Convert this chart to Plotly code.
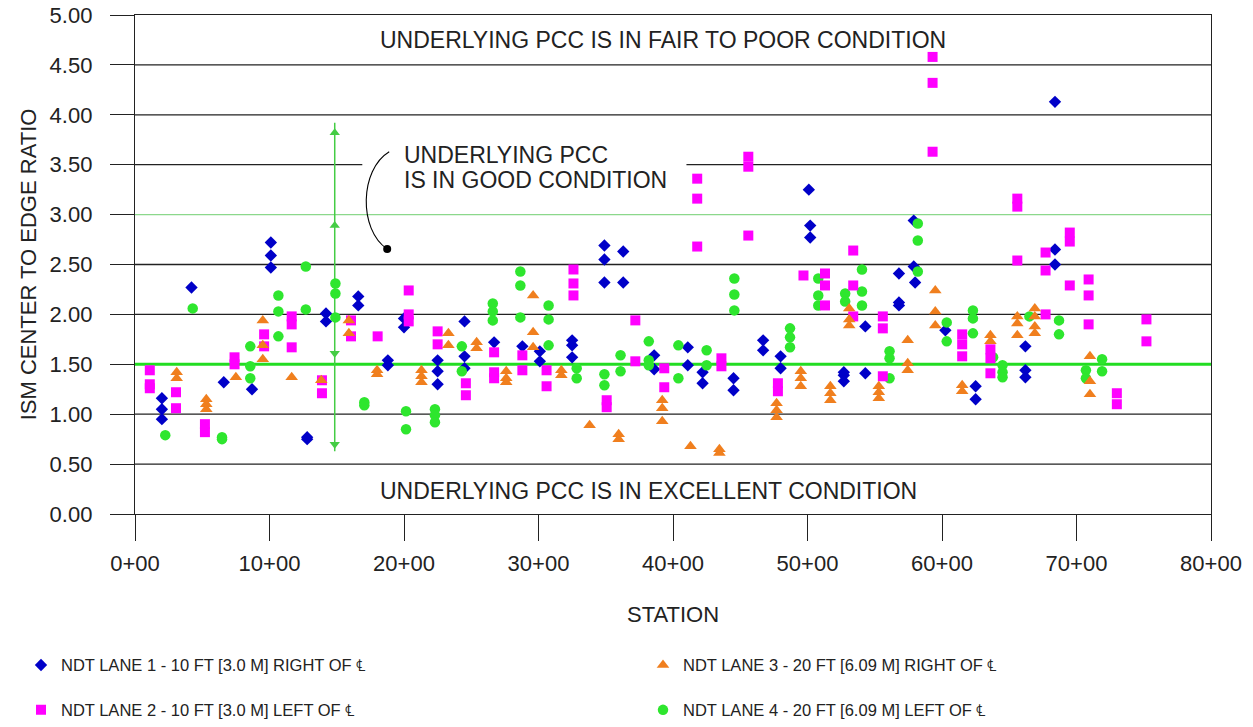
import plotly.graph_objects as go

# ---------------- data ----------------
tick_vals = [0, 10, 20, 30, 40, 50, 60, 70, 80]
tick_text = ["0+00", "10+00", "20+00", "30+00", "40+00", "50+00", "60+00", "70+00", "80+00"]
y_ticks = [0.0, 0.5, 1.0, 1.5, 2.0, 2.5, 3.0, 3.5, 4.0, 4.5, 5.0]

lane1_station = [2.0, 2.0, 2.0, 4.2, 6.6, 8.7, 10.1, 10.1, 10.1, 12.8, 12.8, 14.2, 14.2, 16.6, 16.6,
                 18.8, 18.8, 20.0, 20.0, 22.5, 22.5, 22.5, 24.5, 24.5, 24.5, 26.7, 28.8, 30.1, 30.1,
                 32.5, 32.5, 32.5, 34.9, 34.9, 34.9, 36.3, 36.3, 38.6, 38.6, 41.1, 41.1, 42.2, 42.2,
                 44.5, 44.5, 46.7, 46.7, 48.0, 48.0, 50.1, 50.2, 50.2, 52.7, 52.7, 52.7, 54.3, 54.3,
                 56.8, 56.8, 56.8, 57.9, 57.9, 58.0, 60.25, 62.5, 62.5, 66.2, 66.2, 66.2, 68.4, 68.4, 68.4]
lane1_ratio = [1.16, 1.05, 0.95, 2.27, 1.32, 1.25, 2.72, 2.59, 2.47, 0.77, 0.75, 2.01, 1.93, 2.18, 2.09,
               1.54, 1.49, 1.96, 1.87, 1.54, 1.43, 1.30, 1.93, 1.58, 1.46, 1.72, 1.68, 1.63, 1.53,
               1.74, 1.69, 1.57, 2.69, 2.55, 2.32, 2.63, 2.32, 1.59, 1.45, 1.67, 1.49, 1.42, 1.31,
               1.36, 1.24, 1.74, 1.64, 1.58, 1.46, 3.25, 2.89, 2.77, 1.42, 1.39, 1.33, 1.88, 1.41,
               2.41, 2.12, 2.09, 2.94, 2.48, 2.32, 1.84, 1.28, 1.15, 1.68, 1.44, 1.37, 4.13, 2.65, 2.50]

lane2_station = [1.1, 1.1, 1.1, 3.05, 3.05, 5.2, 5.2, 7.4, 7.4, 9.6, 9.6, 11.65, 11.65, 11.65, 13.9, 13.9,
                 16.06, 16.06, 18.04, 20.35, 20.35, 20.35, 22.5, 22.5, 24.6, 24.6, 26.7, 26.7, 26.7,
                 28.8, 28.8, 30.6, 30.6, 32.6, 32.6, 32.6, 35.07, 35.07, 37.2, 37.2, 39.35, 39.35,
                 41.8, 41.8, 41.8, 43.6, 43.6, 45.6, 45.6, 45.6, 47.8, 47.8, 49.7, 51.3, 51.3, 51.3,
                 53.4, 53.4, 53.4, 55.6, 55.6, 55.6, 59.3, 59.3, 59.3, 61.5, 61.5, 61.5, 63.6, 63.6, 63.6,
                 65.6, 65.6, 65.6, 67.7, 67.7, 67.7, 69.5, 69.5, 69.5, 70.9, 70.9, 70.9, 73.0, 73.0, 75.2, 75.2]
lane2_ratio = [1.44, 1.30, 1.26, 1.22, 1.06, 0.90, 0.82, 1.57, 1.50, 1.80, 1.68, 1.98, 1.90, 1.67, 1.34, 1.21,
               1.94, 1.78, 1.78, 2.24, 2.00, 1.93, 1.83, 1.70, 1.31, 1.19, 1.62, 1.42, 1.36,
               1.59, 1.44, 1.44, 1.28, 2.45, 2.31, 2.19, 1.14, 1.07, 1.94, 1.53, 1.46, 1.27,
               3.36, 3.16, 2.68, 1.56, 1.48, 3.58, 3.48, 2.79, 1.31, 1.23, 2.39, 2.41, 2.29, 2.09,
               2.64, 2.29, 1.98, 1.98, 1.86, 1.38, 4.58, 4.32, 3.63, 1.80, 1.70, 1.58, 1.65, 1.56, 1.41,
               3.16, 3.08, 2.54, 2.62, 2.44, 2.00, 2.82, 2.73, 2.29, 2.35, 2.19, 1.90, 1.21, 1.10, 1.95, 1.73]

lane3_station = [3.1, 3.1, 5.3, 5.3, 5.3, 7.5, 9.5, 9.5, 9.5, 11.65, 13.85, 15.9, 15.9, 18.0, 18.0,
                 21.3, 21.3, 21.3, 23.3, 23.3, 25.4, 25.4, 27.6, 27.6, 27.6, 29.6, 29.6, 29.6, 31.7, 31.7,
                 33.8, 35.96, 35.96, 39.2, 39.2, 39.2, 41.3, 43.45, 43.45, 47.7, 47.7, 47.7,
                 49.5, 49.5, 49.5, 51.7, 51.7, 51.7, 53.1, 53.1, 53.1, 55.3, 55.3, 55.3, 57.45, 57.45, 57.45,
                 59.5, 59.5, 59.5, 61.5, 61.5, 63.6, 63.6, 65.6, 65.6, 65.6, 66.9, 66.9, 66.9, 66.9,
                 71.0, 71.0, 71.0]
lane3_ratio = [1.42, 1.36, 1.15, 1.10, 1.05, 1.37, 1.94, 1.69, 1.55, 1.37, 1.34, 1.94, 1.81, 1.44, 1.40,
               1.44, 1.38, 1.32, 1.81, 1.69, 1.72, 1.66, 1.43, 1.36, 1.32, 2.19, 1.82, 1.67, 1.44, 1.39,
               0.89, 0.80, 0.75, 1.14, 1.06, 0.93, 0.68, 0.65, 0.61, 1.11, 1.04, 0.97,
               1.43, 1.36, 1.28, 1.28, 1.21, 1.14, 2.06, 1.95, 1.89, 1.28, 1.22, 1.16, 1.74, 1.51, 1.44,
               2.24, 2.03, 1.89, 1.29, 1.23, 1.79, 1.73, 1.98, 1.91, 1.79, 2.06, 1.98, 1.88, 1.81,
               1.58, 1.33, 1.20]

lane4_station = [2.25, 4.29, 6.47, 6.47, 8.57, 8.57, 8.57, 10.66, 10.66, 10.66, 12.7, 12.7, 14.9, 14.9, 14.9,
                 17.05, 17.05, 20.15, 20.15, 22.3, 22.3, 22.3, 24.3, 24.3, 26.6, 26.6, 26.6,
                 28.65, 28.65, 28.65, 30.75, 30.75, 30.75, 32.84, 32.84, 34.9, 34.9, 36.1, 36.1,
                 38.2, 38.2, 38.2, 40.4, 40.4, 42.5, 42.5, 44.56, 44.56, 44.56, 48.7, 48.7, 48.7,
                 50.8, 50.8, 50.8, 52.8, 52.8, 54.05, 54.05, 54.05, 56.1, 56.1, 56.1, 58.2, 58.2, 58.2,
                 60.35, 60.35, 62.3, 62.3, 62.3, 63.8, 64.5, 64.5, 64.5, 66.5, 68.7, 68.7, 70.7, 70.7, 71.9, 71.9]
lane4_ratio = [0.79, 2.06, 0.77, 0.75, 1.68, 1.48, 1.36, 2.19, 2.03, 1.78, 2.48, 2.05, 2.31, 2.21, 1.97,
               1.12, 1.09, 1.03, 0.85, 1.05, 0.99, 0.92, 1.68, 1.43, 2.11, 2.03, 1.94,
               2.43, 2.29, 1.97, 2.09, 1.95, 1.69, 1.46, 1.36, 1.40, 1.29, 1.59, 1.43,
               1.73, 1.54, 1.49, 1.69, 1.36, 1.64, 1.49, 2.36, 2.20, 2.04, 1.86, 1.77, 1.67,
               2.36, 2.19, 2.09, 2.21, 2.13, 2.45, 2.23, 2.09, 1.63, 1.56, 1.36, 2.91, 2.74, 2.43,
               1.92, 1.73, 2.04, 1.96, 1.81, 1.57, 1.49, 1.42, 1.37, 1.98, 1.94, 1.80, 1.44, 1.36, 1.55, 1.43]

lane_names = [
    "NDT LANE 1 - 10 FT [3.0 M] RIGHT OF \u2104",
    "NDT LANE 2 - 10 FT [3.0 M] LEFT OF \u2104",
    "NDT LANE 3 - 20 FT [6.09 M] RIGHT OF \u2104",
    "NDT LANE 4 - 20 FT [6.09 M] LEFT OF \u2104",
]

# guide annotations (data units)
grid_full = [0.5, 1.0, 2.0, 2.5, 4.0, 4.5]
grid_split_value = 3.5
grid_split_gap = [16.9, 41.0]
good_lower, good_upper = 1.5, 3.0
arrow_station = 14.85
arrow_span = [0.63, 3.92]
arrow_up_at = [3.82, 2.89]
arrow_down_at = [1.61, 0.70]
callout_dot = [18.75, 2.655]

# ---------------- figure ----------------
BLUE = "#0000C8"
PINK = "#FF00FF"
ORANGE = "#F07F1E"
GREEN = "#2EE62E"
FONT = "Liberation Sans, Arial, sans-serif"

fig = go.Figure()

# guide arrow (vertical)
fig.add_trace(go.Scatter(x=[arrow_station, arrow_station], y=arrow_span, mode="lines",
                         line=dict(color="#44CC44", width=1.5), showlegend=False, hoverinfo="skip"))
fig.add_trace(go.Scatter(x=[arrow_station] * len(arrow_up_at), y=arrow_up_at, mode="markers",
                         marker=dict(symbol="triangle-up", size=9, color="#44CC44"),
                         showlegend=False, hoverinfo="skip"))
fig.add_trace(go.Scatter(x=[arrow_station] * len(arrow_down_at), y=arrow_down_at, mode="markers",
                         marker=dict(symbol="triangle-down", size=9, color="#44CC44"),
                         showlegend=False, hoverinfo="skip"))

# data series (draw order: blue, green, pink, orange)
fig.add_trace(go.Scatter(x=lane1_station, y=lane1_ratio, mode="markers", name=lane_names[0],
                         marker=dict(symbol="diamond", size=9.5, color=BLUE), legend="legend"))
fig.add_trace(go.Scatter(x=lane4_station, y=lane4_ratio, mode="markers", name=lane_names[3],
                         marker=dict(symbol="circle", size=10.5, color=GREEN), legend="legend4"))
fig.add_trace(go.Scatter(x=lane2_station, y=lane2_ratio, mode="markers", name=lane_names[1],
                         marker=dict(symbol="square", size=10, color=PINK), legend="legend3"))
fig.add_trace(go.Scatter(x=lane3_station, y=lane3_ratio, mode="markers", name=lane_names[2],
                         marker=dict(symbol="triangle-up", size=11, color=ORANGE), legend="legend2"))

# callout dot
fig.add_trace(go.Scatter(x=[callout_dot[0]], y=[callout_dot[1]], mode="markers",
                         marker=dict(symbol="circle", size=8, color="black"), showlegend=False, hoverinfo="skip"))

shapes = []
for v in grid_full:
    shapes.append(dict(type="line", xref="x", yref="y", x0=0, x1=80, y0=v, y1=v,
                       line=dict(color="#222222", width=1.3), layer="below"))
shapes.append(dict(type="line", xref="x", yref="y", x0=0, x1=grid_split_gap[0], y0=grid_split_value,
                   y1=grid_split_value, line=dict(color="#222222", width=1.3), layer="below"))
shapes.append(dict(type="line", xref="x", yref="y", x0=grid_split_gap[1], x1=80, y0=grid_split_value,
                   y1=grid_split_value, line=dict(color="#222222", width=1.3), layer="below"))
shapes.append(dict(type="line", xref="x", yref="y", x0=0, x1=80, y0=good_upper, y1=good_upper,
                   line=dict(color="#8CD88C", width=1.3), layer="below"))
shapes.append(dict(type="line", xref="x", yref="y", x0=0, x1=80, y0=good_lower, y1=good_lower,
                   line=dict(color="#22DD22", width=3), layer="below"))
# callout curve
shapes.append(dict(type="path", xref="x", yref="y",
                   path="M 18.9,3.63 C 16.7,3.45 16.6,2.85 18.75,2.655",
                   line=dict(color="black", width=1.1)))

ANN_FONT = dict(size=23, color="#222", family=FONT)
annotations = [
    dict(x=18.05, y=4.75, xref="x", yref="y", text="UNDERLYING PCC IS IN FAIR TO POOR CONDITION",
         showarrow=False, xanchor="left", yanchor="middle", font=ANN_FONT),
    dict(x=18.05, y=0.235, xref="x", yref="y", text="UNDERLYING PCC IS IN EXCELLENT CONDITION",
         showarrow=False, xanchor="left", yanchor="middle", font=ANN_FONT),
    dict(x=19.85, y=3.595, xref="x", yref="y", text="UNDERLYING PCC",
         showarrow=False, xanchor="left", yanchor="middle", font=ANN_FONT),
    dict(x=19.85, y=3.345, xref="x", yref="y", text="IS IN GOOD CONDITION",
         showarrow=False, xanchor="left", yanchor="middle", font=ANN_FONT),
]

# figure fills the window (page body margin removed in post_script)
L, T, PW, PH = 135, 14.5, 1076, 500
FW, FH = 1253, 727


def px_x(fx):
    return (fx - L) / PW


def px_y(fy):
    return (T + PH - fy) / PH


LEG_FONT = dict(size=16.5, family=FONT, color="#222")
leg_common = dict(orientation="v", xanchor="left", yanchor="top", font=LEG_FONT,
                  bgcolor="rgba(0,0,0,0)", itemwidth=30)

fig.update_layout(
    width=FW, height=FH,
    margin=dict(l=L, r=FW - L - PW, t=T, b=FH - T - PH, autoexpand=False),
    paper_bgcolor="white", plot_bgcolor="white",
    font=dict(family=FONT, size=22, color="#222"),
    shapes=shapes, annotations=annotations,
    xaxis=dict(range=[0, 80], tickvals=tick_vals, ticktext=tick_text, showgrid=False, zeroline=False,
               showline=True, linecolor="#222", linewidth=1.3, mirror=True,
               ticks="outside", ticklen=26, tickcolor="#222", tickwidth=1.3,
               ticklabelstandoff=3, ticklabeloverflow="allow", tickfont=dict(size=22),
               title=dict(text="STATION", font=dict(size=22), standoff=32)),
    yaxis=dict(range=[0, 5], tickvals=y_ticks, tickformat=".2f", showgrid=False, zeroline=False,
               showline=True, linecolor="#222", linewidth=1.3, mirror=True,
               ticks="outside", ticklen=24, tickcolor="#222", tickwidth=1.3,
               ticklabelstandoff=13, ticklabeloverflow="allow", tickfont=dict(size=22),
               title=dict(text="ISM CENTER TO EDGE RATIO", font=dict(size=22), standoff=6)),
    legend=dict(x=px_x(21), y=px_y(648.5), **leg_common),
    legend2=dict(x=px_x(643), y=px_y(648.5), **leg_common),
    legend3=dict(x=px_x(21), y=px_y(693.5), **leg_common),
    legend4=dict(x=px_x(643), y=px_y(693.5), **leg_common),
)

fig.write_html("out.html", config={"displayModeBar": False},
               post_script="document.body.style.margin='0';document.body.style.overflow='hidden';")
